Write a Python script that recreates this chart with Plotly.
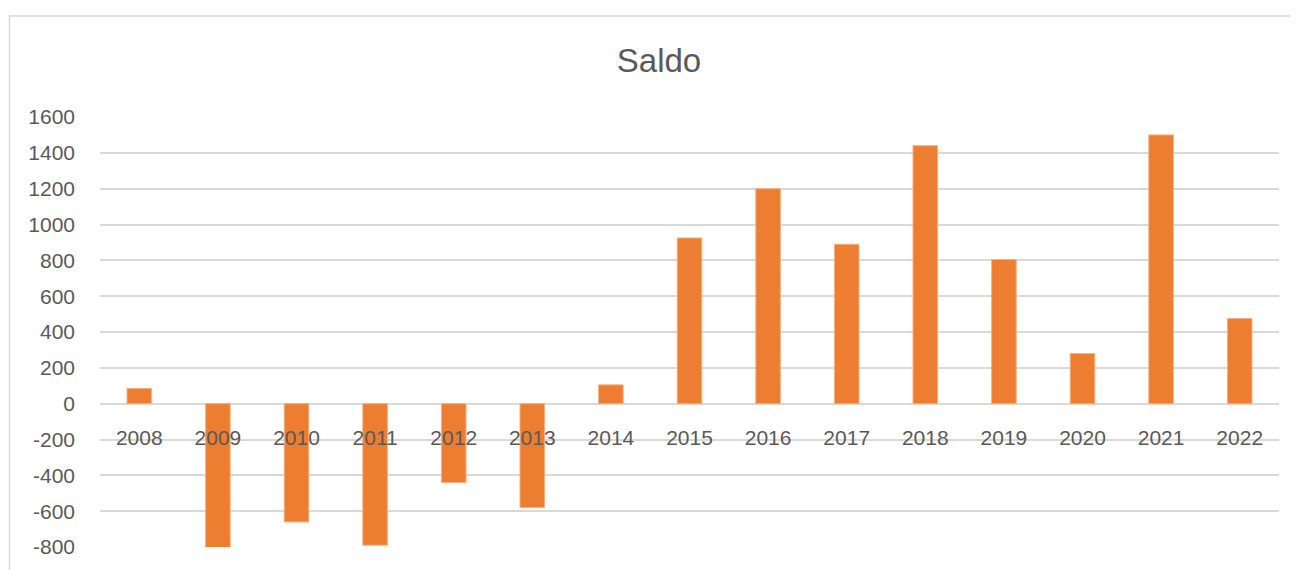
import plotly.graph_objects as go

years = ["2008", "2009", "2010", "2011", "2012", "2013", "2014", "2015",
         "2016", "2017", "2018", "2019", "2020", "2021", "2022"]
saldo = [85, -810, -660, -790, -440, -580, 105, 925,
         1200, 890, 1440, 805, 280, 1500, 475]
y_ticks = [-800, -600, -400, -200, 0, 200, 400, 600, 800, 1000, 1200, 1400, 1600]
y_tick_labels = ["-800", "-600", "-400", "-200", "0", "200", "400", "600",
                 "800", "1000", "1200", "1400", "1600"]

FONT = "Liberation Sans"
GREY_TEXT = "#595959"
GRID = "#D9D9D9"

OFF = 8  # page body margin
W, H = 1298 - OFF, 570 - OFF
L = 100 - OFF
T = 117 - OFF
R = W - (1279 - OFF)
B = H - (551 - OFF)
pw = W - L - R
ph = H - T - B

fig = go.Figure()
fig.add_trace(go.Bar(
    x=years, y=saldo,
    marker=dict(color="#ED7D31", line=dict(color="#F4B183", width=1)),
    name="Saldo",
))

fig.update_layout(
    width=W, height=H,
    margin=dict(l=L, r=R, t=T, b=B, pad=0),
    paper_bgcolor="white", plot_bgcolor="white",
    showlegend=False,
    bargap=0.687,
    title=dict(text="Saldo", x=(659 - OFF) / W, xref="container", xanchor="center",
               y=1 - (60 - OFF) / H, yref="container", yanchor="middle",
               font=dict(family=FONT, size=33, color=GREY_TEXT)),
    font=dict(family=FONT, color=GREY_TEXT),
    xaxis=dict(type="category", showgrid=False, showline=False, zeroline=False,
               ticks="", anchor="free", position=800 / 2400,
               ticklabelstandoff=19,
               tickfont=dict(family=FONT, size=21, color=GREY_TEXT)),
    yaxis=dict(range=[-800, 1600], tickvals=y_ticks, ticktext=y_tick_labels,
               showgrid=True,
               gridcolor=GRID, gridwidth=1.5, zeroline=True, zerolinecolor=GRID,
               zerolinewidth=1.5, showline=False, ticks="",
               ticklabelstandoff=24,
               tickfont=dict(family=FONT, size=21, color=GREY_TEXT)),
)

# chart frame border
fig.add_shape(type="rect", xref="paper", yref="paper",
              x0=(9.5 - OFF - L) / pw, x1=(W + 20 - L) / pw,
              y0=(H - B - (H + 20)) / ph, y1=(H - B - (15 - OFF)) / ph,
              line=dict(color=GRID, width=1.5), fillcolor="rgba(0,0,0,0)",
              layer="below")

fig.write_html("out.html")
